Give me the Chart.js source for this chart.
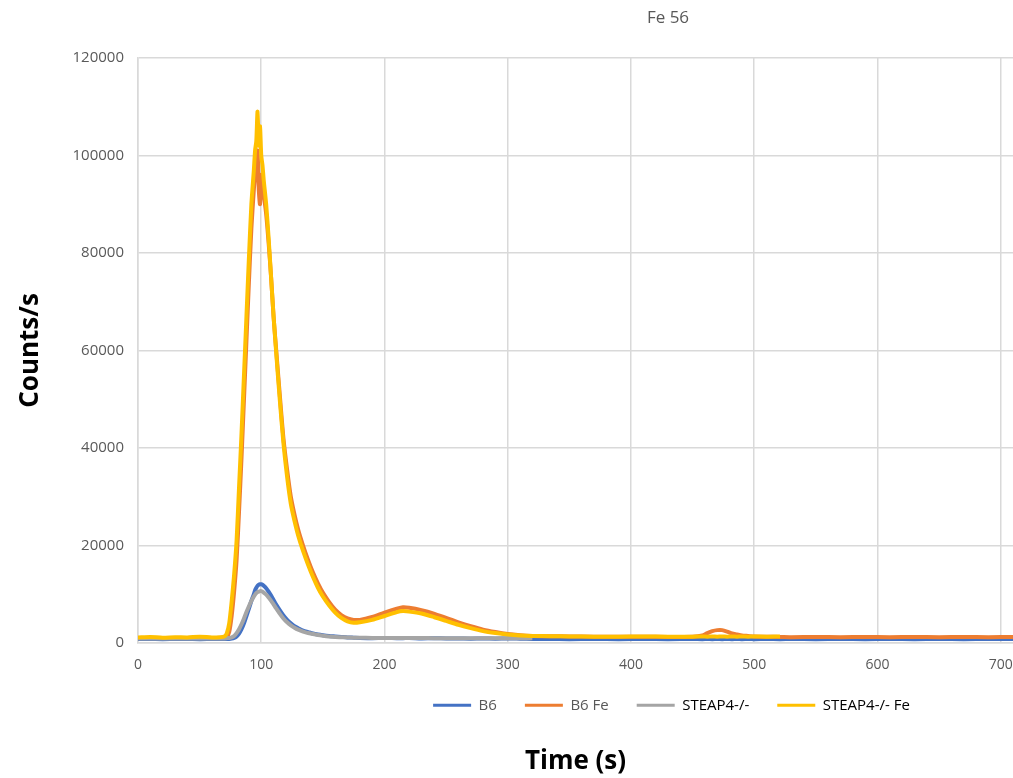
<!DOCTYPE html>
<html>
<head>
<meta charset="utf-8">
<title>Fe 56</title>
<script src="https://cdn.jsdelivr.net/npm/chart.js@4.4.1/dist/chart.umd.min.js"></script>
<style>
  html, body { margin: 0; padding: 0; background: #fff; }
  #wrap { width: 1013px; height: 778px; }
</style>
</head>
<body>
<div id="wrap"><canvas id="feChart"></canvas></div>
<script>
// 시간 축 (s)
var times = [0, 10, 20, 30, 40, 50, 60, 66, 70, 72,
  74, 76, 78, 80, 82, 84, 86, 88, 90, 92,
  94, 95, 96, 97, 98, 99, 100, 101, 102, 104,
  106, 108, 110, 112, 115, 118, 121, 124, 127, 130,
  134, 138, 142, 146, 150, 155, 160, 165, 170, 175,
  180, 190, 200, 210, 215, 220, 230, 240, 250, 260,
  270, 280, 290, 300, 310, 320, 335, 350, 370, 390,
  410, 430, 450, 458, 462, 466, 470, 474, 478, 482,
  486, 490, 495, 500, 510, 521, 530, 550, 570, 590,
  610, 630, 650, 670, 690, 710];

var seriesNames = ['B6', 'B6 Fe', 'STEAP4-/-', 'STEAP4-/- Fe'];

var b6 = [800, 800, 750, 800, 800, 750, 800, 800, 800, 800,
  800, 850, 1000, 1300, 1900, 2800, 4000, 5500, 7000, 8600,
  10000, 10800, 11300, 11700, 11900, 12000, 12000, 11900, 11700, 11200,
  10500, 9700, 8800, 7900, 6700, 5600, 4700, 4000, 3400, 3000,
  2500, 2200, 1900, 1700, 1550, 1400, 1300, 1200, 1100, 1050,
  1000, 950, 1000, 950, 950, 1000, 900, 950, 900, 900,
  850, 900, 850, 900, 850, 800, 800, 750, 800, 750,
  800, 750, 800, 750, 800, 750, 800, 750, 800, 750,
  800, 750, 800, 750, 800, 750, 800, 750, 800, 750,
  800, 750, 800, 750, 800, 800];

var b6Fe = [1000, 1000, 1000, 1000, 1000, 1000, 1000, 1000, 1050, 1200,
  2200, 5500, 10500, 17000, 27000, 38000, 50000, 62000, 74000, 85000,
  93000, 96000, 99000, 101000, 93000, 90000, 96000, 94000, 92000, 88000,
  82000, 75000, 67000, 60500, 51000, 42000, 35500, 30000, 26300, 23200,
  19900, 17000, 14400, 12200, 10300, 8400, 6800, 5700, 5000, 4700,
  4700, 5300, 6200, 7000, 7300, 7200, 6700, 6000, 5100, 4200,
  3400, 2700, 2200, 1800, 1550, 1400, 1350, 1300, 1250, 1250,
  1250, 1200, 1250, 1500, 2000, 2400, 2600, 2600, 2300, 1900,
  1700, 1500, 1400, 1300, 1250, 1200, 1150, 1200, 1150, 1200,
  1150, 1200, 1150, 1200, 1150, 1200];

var steap4 = [900, 900, 900, 900, 900, 900, 900, 900, 900, 950,
  1000, 1100, 1400, 2000, 2800, 3800, 5000, 6300, 7500, 8600,
  9500, 9900, 10200, 10400, 10500, 10600, 10600, 10500, 10300, 9900,
  9300, 8600, 7900, 7100, 6000, 5000, 4200, 3600, 3100, 2700,
  2300, 2000, 1800, 1600, 1450, 1300, 1200, 1150, 1100, 1050,
  1050, 1000, 1000, 1000, 1000, 1000, 1000, 950, 950, 950,
  950, 950, 950, 950, 950, 950, null, null, null, null,
  null, null, null, null, null, null, null, null, null, null,
  null, null, null, null, null, null, null, null, null, null,
  null, null, null, null, null, null];

var steap4Fe = [1100, 1200, 1050, 1150, 1100, 1250, 1100, 1150, 1300, 1900,
  4000, 8500, 14000, 21000, 32000, 43000, 55000, 67000, 79000, 90000,
  97000, 101000, 103000, 109000, 102000, 106000, 100000, 98000, 95000, 90000,
  83000, 75000, 67000, 60000, 50000, 41000, 34000, 28500, 25000, 22000,
  18800, 16000, 13500, 11300, 9500, 7700, 6200, 5100, 4400, 4100,
  4200, 4700, 5500, 6300, 6500, 6400, 6000, 5300, 4500, 3700,
  3000, 2400, 2000, 1700, 1500, 1400, 1350, 1300, 1250, 1250,
  1300, 1250, 1250, 1300, 1250, 1300, 1250, 1300, 1250, 1300,
  1250, 1300, 1250, 1300, 1250, 1300, null, null, null, null,
  null, null, null, null, null, null];

var yTicks = [0, 20000, 40000, 60000, 80000, 100000, 120000];
var xTicks = [0, 100, 200, 300, 400, 500, 600, 700];

function toPoints(arr) {
  return times.map(function (t, i) { return { x: t, y: arr[i] }; });
}

// 제목 "Fe 56" (차트 중앙이 아닌 오른쪽에 위치)
var topLabel = {
  id: 'topLabel',
  afterLayout: function (chart) {
    // 범례를 원본처럼 오른쪽으로 이동
    chart.legend.left += 96;
    chart.legend.right += 96;
  },
  afterDraw: function (chart) {
    var c = chart.ctx;
    c.save();
    c.font = '17px "Open Sans", sans-serif';
    c.fillStyle = '#595959';
    c.textAlign = 'center';
    c.textBaseline = 'middle';
    c.fillText('Fe 56', 668, 18);
    c.restore();
  }
};

var ctx = document.getElementById('feChart').getContext('2d');
var feChart = new Chart(ctx, {
  type: 'line',
  data: {
    datasets: [
      { label: seriesNames[0], data: toPoints(b6), borderColor: '#4472C4', backgroundColor: '#4472C4', order: 3 },
      { label: seriesNames[1], data: toPoints(b6Fe), borderColor: '#ED7D31', backgroundColor: '#ED7D31', order: 2 },
      { label: seriesNames[2], data: toPoints(steap4), borderColor: '#A5A5A5', backgroundColor: '#A5A5A5', order: 1 },
      { label: seriesNames[3], data: toPoints(steap4Fe), borderColor: '#FFC000', backgroundColor: '#FFC000', order: 0 }
    ]
  },
  options: {
    responsive: true,
    maintainAspectRatio: false,
    animation: false,
    elements: {
      point: { radius: 0 },
      line: { borderWidth: 4, tension: 0.25 }
    },
    layout: {
      padding: { left: 0, right: 0, top: 58, bottom: 0 }
    },
    scales: {
      x: {
        type: 'linear',
        min: 0,
        max: 710,
        afterBuildTicks: function (scale) {
          scale.ticks = xTicks.map(function (v) { return { value: v }; });
        },
        afterFit: function (scale) {
          scale.height = 27;
          scale.paddingLeft = 0;
          scale.paddingRight = 0;
        },
        grid: { color: '#d9d9d9', lineWidth: 1.5, drawTicks: false },
        border: { color: '#d9d9d9', width: 1.5 },
        ticks: {
          padding: 14,
          maxRotation: 0,
          color: '#595959',
          font: { size: 14, family: '"Open Sans", sans-serif' }
        }
      },
      y: {
        min: 0,
        max: 120000,
        afterBuildTicks: function (scale) {
          scale.ticks = yTicks.map(function (v) { return { value: v }; });
        },
        afterFit: function (scale) {
          scale.width = 138;
          scale.paddingTop = 0;
          scale.paddingBottom = 0;
        },
        grid: { color: '#d9d9d9', lineWidth: 1.5, drawTicks: false },
        border: { color: '#d9d9d9', width: 1.5 },
        ticks: {
          padding: 14,
          color: '#595959',
          font: { size: 15, family: '"Open Sans", sans-serif' },
          callback: function (v) { return String(v); }
        },
        title: {
          display: true,
          text: 'Counts/s',
          color: '#000',
          padding: { top: 15, bottom: 0 },
          font: { size: 26, weight: 'bold', family: '"Open Sans", sans-serif' }
        }
      }
    },
    plugins: {
      legend: {
        position: 'bottom',
        fullSize: false,
        reverse: true,
        labels: {
          boxWidth: 38,
          boxHeight: 3,
          padding: 28,
          font: { size: 15, family: '"Open Sans", sans-serif' },
          generateLabels: function (chart) {
            var items = Chart.defaults.plugins.legend.labels.generateLabels(chart);
            items.forEach(function (it) {
              it.fontColor = it.text.indexOf('STEAP4') === 0 ? '#000' : '#595959';
              it.lineWidth = 0;
            });
            return items;
          }
        }
      },
      title: {
        display: true,
        position: 'bottom',
        fullSize: false,
        text: 'Time (s)',
        color: '#000',
        padding: { top: 23, bottom: 1 },
        font: { size: 26, weight: 'bold', family: '"Open Sans", sans-serif' }
      },
      tooltip: { enabled: false }
    }
  },
  plugins: [topLabel]
});
</script>
</body>
</html>
